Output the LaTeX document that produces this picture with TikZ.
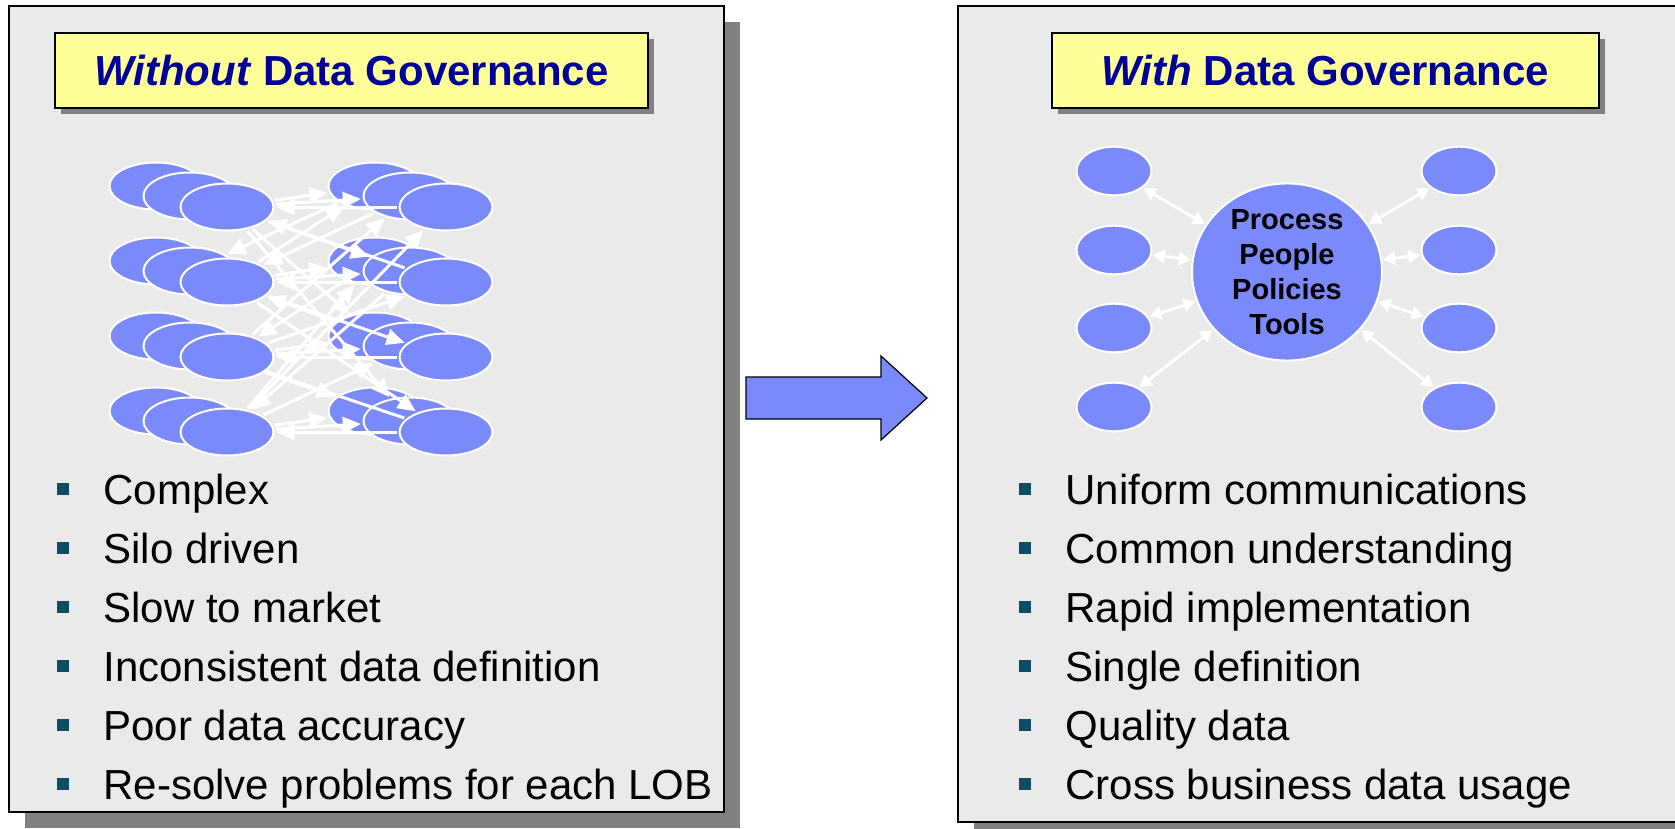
\documentclass[tikz,border=0pt]{standalone}
\usepackage{fontspec}
\setmainfont{Liberation Sans}
\usetikzlibrary{arrows.meta,shapes.geometric,shadows}

\definecolor{panelgray}{RGB}{234,234,234}
\definecolor{shadegray}{RGB}{128,128,128}
\definecolor{titleyellow}{RGB}{255,255,153}
\definecolor{titleblue}{RGB}{0,0,153}
\definecolor{blobblue}{RGB}{122,138,250}
\definecolor{bulletteal}{RGB}{12,76,100}

\pgfdeclarelayer{front}
\pgfsetlayers{main,front}

\begin{document}
\begin{tikzpicture}[x=0.5pt,y=-0.5pt,
  panel/.style={draw=black, line width=0.9pt, fill=panelgray, inner sep=0pt,
    drop shadow={shadow xshift=8pt, shadow yshift=-8pt, fill=shadegray, opacity=1}},
  titlebox/.style={draw=black, line width=1.3pt, fill=titleyellow, text=titleblue,
    inner sep=0pt, minimum height=37.5pt, font=\fontsize{21}{25}\selectfont\bfseries,
    drop shadow={shadow xshift=3pt, shadow yshift=-3pt, fill=shadegray, opacity=1}},
  blob/.style={ellipse, draw=white, line width=1pt, fill=blobblue, inner sep=0pt,
    minimum width=46.5pt, minimum height=23.5pt},
  spoke/.style={blob, minimum width=37.5pt, minimum height=24.3pt},
  link/.style={white, line width=1.5pt, -{Triangle[length=9pt,width=8pt]},
    shorten >=1pt, shorten <=1pt},
  twoway/.style={white, line width=1.4pt,
    {Triangle[length=6pt,width=6.5pt]}-{Triangle[length=6pt,width=6.5pt]},
    shorten >=0.5pt, shorten <=0.5pt},
  sqbullet/.style={fill=bulletteal, minimum size=6pt, inner sep=0pt},
  item/.style={anchor=base west, inner sep=0pt, font=\fontsize{21}{25}\selectfont}]

  \useasboundingbox (0,0) rectangle (1675,829);
  \clip (0,0) rectangle (1675,829);

  % Pannelli
  \node[panel, minimum width=357.5pt, minimum height=403pt] (leftpanel) at (366.5,409) {};
  \node[panel, minimum width=371pt, minimum height=408pt] (rightpanel) at (1329,414) {};

  % Titoli
  \node[titlebox, minimum width=296.5pt] (lefttitle) at (351.5,70.5) {\textit{Without} Data Governance};
  \node[titlebox, minimum width=273.5pt] (righttitle) at (1325.5,70.5) {\textit{With} Data Governance};

  % Silos senza governance
  \foreach \r in {1,...,4} {
    \node[blob] (la\r) at (156,111+75*\r) {};
    \node[blob] (lb\r) at (190,121+75*\r) {};
    \node[blob] (ra\r) at (375,111+75*\r) {};
    \node[blob] (rb\r) at (410,121+75*\r) {};
  }
  \begin{pgfonlayer}{front}
    \foreach \r in {1,...,4} {
      \node[blob] (lc\r) at (227,132+75*\r) {};
      \node[blob] (rc\r) at (446,132+75*\r) {};
    }
  \end{pgfonlayer}

  % Frecce tra i silos
  \foreach \a/\b in {lc1/ra1, lc1/rb1, rc1/lc1, lc2/ra2, lc2/rb2, rc2/lc2,
                     lc3/ra3, lc3/rb3, rc3/lc3, lc4/ra4, lc4/rb4, rc4/lc4,
                     lc1/rb2, rc2/lc1, lc1/ra3, lc1/rb4,
                     lc2/ra1, rb1/lc2, lc2/rc3, ra3/lc2, lc2/rc4,
                     lc3/rb1, lc3/rc2, ra2/lc3, lc3/ra4,
                     lc4/rc1, lc4/ra2, rb2/lc4, lc4/rb3,
                     ra1/lb2, rc4/lb3, ra4/lb3}
    \draw[link] (\a) -- (\b);

  % Freccia centrale
  \draw[black, line width=0.6pt, fill=blobblue]
    (746,377) -- (881,377) -- (881,356) -- (927,398) -- (881,440) -- (881,419) -- (746,419) -- cycle;

  % Governance
  \node[blob, minimum width=95pt, minimum height=88pt, align=center,
    font=\fontsize{14.5}{17.5}\selectfont\bfseries] (hub) at (1287,272) {Process\\People\\Policies\\Tools};
  \foreach \i/\y in {1/171, 2/250, 3/328, 4/407} {
    \node[spoke] (sl\i) at (1114,\y) {};
    \node[spoke] (sr\i) at (1459,\y) {};
    \draw[twoway] (sl\i) -- (hub);
    \draw[twoway] (hub) -- (sr\i);
  }

  % Elenchi
  \foreach \txt [count=\i] in {Complex, Silo driven, Slow to market,
      Inconsistent data definition, Poor data accuracy, Re-solve problems for each LOB} {
    \node[sqbullet] (lsq\i) at (63,430+59*\i) {};
    \node[item] (lpt\i) at (103,445+59*\i) {\txt};
  }
  \foreach \txt [count=\i] in {Uniform communications, Common understanding, Rapid implementation,
      Single definition, Quality data, Cross business data usage} {
    \node[sqbullet] (rsq\i) at (1025,430+59*\i) {};
    \node[item] (rpt\i) at (1065,445+59*\i) {\txt};
  }
\end{tikzpicture}
\end{document}
